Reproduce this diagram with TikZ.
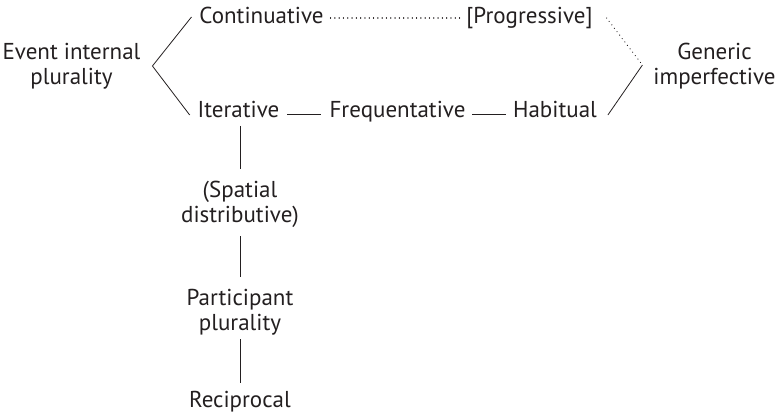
\documentclass[tikz,border=0pt]{standalone}
\usepackage{fontspec}
\setmainfont{PT Sans}
\usetikzlibrary{calc}
\definecolor{ink}{HTML}{231F20}
\begin{document}
\begin{tikzpicture}[x=1pt,y=-1pt,
  term/.style={inner sep=0pt,outer sep=0pt,text=ink,align=center,
    font=\fontsize{23}{25}\selectfont},
  link/.style={draw=ink,line width=0.8pt},
  weak/.style={draw=ink,line width=1.2pt,line cap=round,dash pattern=on 0.1pt off 4.2pt}]
\useasboundingbox (0,0) rectangle (778,414);

% categories
\node[term] (evt) at (71.5,66) {Event internal\\plurality};
\node[term,anchor=base] (cont) at (261.5,24) {Continuative};
\node[term,anchor=base] (prog) at (529.5,24) {[Progressive]};
\node[term] (gen) at (714.5,66) {Generic\\imperfective};
\node[term,anchor=base] (iter) at (238.5,118) {Iterative};
\node[term,anchor=base] (freq) at (397.5,118) {Frequentative};
\node[term,anchor=base] (hab) at (555,118) {Habitual};
\node[term] (spat) at (240,204) {(Spatial\\distributive)};
\node[term] (part) at (240,312) {Participant\\plurality};
\node[term,anchor=base] (recip) at (240,407) {Reciprocal};

% branching points
\coordinate (vl) at ($(evt.east)+(12,0)$);
\coordinate (vr) at ($(gen.west)+(-11,-1)$);

% left fork
\draw[link] ($(cont.base west)+(-8,-7)$) -- (vl) -- ($(iter.base west)+(-8,-3)$);
% right fork
\draw[weak] ($(prog.base east)+(14,-6)$) -- (vr);
\draw[link] (vr) -- ($(hab.base east)+(11,-3)$);

% top and middle rows
\draw[weak] ($(cont.base east)+(7,-6)$) -- ($(prog.base west)+(-6,-6)$);
\draw[link] ($(iter.base east)+(8,-4)$) -- ($(freq.base west)+(-9,-4)$);
\draw[link] ($(freq.base east)+(7,-4)$) -- ($(hab.base west)+(-7,-4)$);

% vertical chain
\draw[link] ($(iter.base)+(1.5,8)$) -- ($(spat.north)+(0,-12)$);
\draw[link] ($(spat.south)+(0,9)$) -- ($(part.north)+(0,-12)$);
\draw[link] ($(part.south)+(0,4)$) -- ($(recip.base)+(0,-24)$);
\end{tikzpicture}
\end{document}
